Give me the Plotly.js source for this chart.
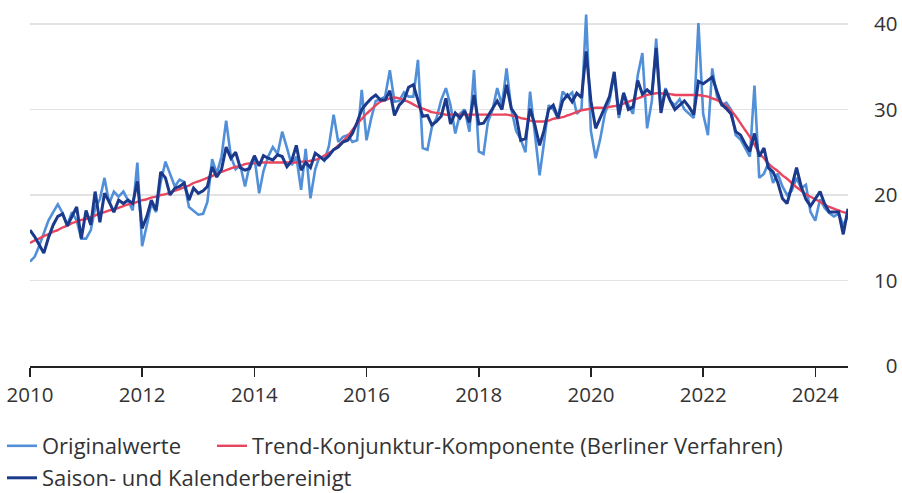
<!DOCTYPE html>
<html>
<head>
<meta charset="utf-8">
<script src="https://cdn.plot.ly/plotly-3.0.1.min.js"></script>
<style>
  html, body { margin: 0; padding: 0; background: #ffffff; }
  #chart { width: 902px; height: 493px; }
</style>
</head>
<body>
<div id="chart"></div>
<script>
// Monthly observations, January 2010 to August 2024
var startYear = 2010;
var monthCount = 176;

var originalwerte = [
  12.2, 12.8, 14.0, 15.5, 17.0, 18.0, 18.9, 17.9, 16.5, 18.0, 17.0, 14.9,
  14.9, 15.9, 18.5, 19.5, 22.0, 19.0, 20.4, 19.8, 20.4, 19.4, 18.2, 23.8,
  14.0, 16.5, 19.0, 18.0, 21.5, 23.9, 22.5, 21.0, 21.8, 21.5, 18.6, 18.2,
  17.7, 17.8, 19.2, 24.2, 22.5, 24.5, 28.7, 24.5, 23.0, 23.5, 21.0, 23.5,
  24.5, 20.2, 22.8, 24.5, 25.6, 24.8, 27.4, 25.5, 23.5, 24.5, 20.6, 25.4,
  19.6, 23.0, 24.5, 24.0, 25.7, 29.4, 26.2, 26.8, 27.0, 26.2, 26.4, 32.3,
  26.4, 29.0, 31.0, 31.2, 31.5, 34.6, 30.9, 31.0, 32.0, 31.5, 31.5, 35.8,
  25.5, 25.3, 27.9, 29.0, 31.1, 32.5, 30.5, 27.2, 29.5, 30.0, 27.4, 34.6,
  25.1, 24.8, 28.5, 30.0, 32.5, 30.5, 34.8, 30.0, 27.5, 26.5, 25.0, 32.1,
  27.5, 22.3, 26.0, 30.5, 30.0, 29.0, 32.1, 31.5, 32.0, 29.5, 30.1, 41.1,
  27.5, 24.3, 26.5, 29.5, 31.0, 34.2, 29.0, 32.0, 30.5, 29.5, 34.0, 36.6,
  27.8, 31.0, 38.3, 30.0, 32.5, 31.0, 30.5, 31.2, 30.0, 29.5, 29.0, 40.1,
  29.5, 27.0, 34.8, 31.5, 30.5, 30.8, 30.0, 27.0, 26.5, 25.5, 24.5, 32.8,
  22.0, 22.5, 23.7, 21.4, 22.5, 21.0, 20.0, 20.5, 22.0, 20.8, 21.2, 18.0,
  17.0, 19.5, 18.5, 17.9, 17.5, 17.8, 16.5, 17.5
];

var trendKonjunktur = [
  14.4, 14.7, 14.9, 15.2, 15.4, 15.7, 15.9, 16.2, 16.4, 16.7, 16.9, 17.1,
  17.2, 17.4, 17.6, 17.8, 18.0, 18.2, 18.3, 18.5, 18.7, 18.9, 19.0, 19.2,
  19.4, 19.5, 19.7, 19.8, 20.0, 20.1, 20.3, 20.5, 20.7, 20.9, 21.1, 21.4,
  21.6, 21.8, 22.0, 22.2, 22.5, 22.7, 22.9, 23.1, 23.3, 23.4, 23.6, 23.7,
  23.7, 23.8, 23.8, 23.8, 23.8, 23.8, 23.8, 23.8, 23.8, 23.8, 23.9, 23.9,
  24.0, 24.1, 24.3, 24.6, 24.9, 25.3, 25.8, 26.3, 26.9, 27.6, 28.3, 28.9,
  29.5, 30.0, 30.5, 30.9, 31.1, 31.3, 31.4, 31.3, 31.1, 30.9, 30.6, 30.3,
  30.1, 29.9, 29.7, 29.6, 29.5, 29.4, 29.4, 29.4, 29.4, 29.4, 29.4, 29.4,
  29.4, 29.4, 29.4, 29.4, 29.4, 29.4, 29.4, 29.3, 29.2, 29.0, 28.9, 28.7,
  28.6, 28.6, 28.6, 28.7, 28.9, 29.0, 29.1, 29.3, 29.5, 29.7, 29.9, 30.0,
  30.1, 30.2, 30.2, 30.2, 30.3, 30.4, 30.5, 30.7, 30.9, 31.1, 31.3, 31.5,
  31.7, 31.8, 31.9, 31.9, 31.8, 31.8, 31.7, 31.7, 31.7, 31.7, 31.7, 31.7,
  31.6, 31.5, 31.3, 31.1, 30.8, 30.4, 29.9, 29.2, 28.4, 27.6, 26.8, 25.9,
  24.9, 24.3, 23.7, 23.2, 22.8, 22.3, 21.9, 21.4, 20.9, 20.5, 20.1, 19.8,
  19.5, 19.2, 18.9, 18.6, 18.4, 18.2, 18.0, 17.9
];

var saisonbereinigt = [
  15.9, 15.1, 14.2, 13.2, 15.0, 16.5, 17.5, 17.8, 16.4, 17.5, 18.6, 14.9,
  18.2, 16.5, 20.4, 16.8, 20.2, 19.2, 18.0, 19.4, 19.0, 19.4, 19.0, 21.6,
  16.1, 17.5, 19.4, 18.2, 22.7, 22.0, 20.0, 20.8, 21.0, 21.4, 19.4, 20.8,
  20.2, 20.5, 21.0, 23.3, 22.1, 23.0, 25.6, 24.3, 25.0, 23.2, 22.9, 23.1,
  24.6, 23.4, 24.6, 24.3, 24.1, 24.7, 24.5, 23.3, 24.0, 25.8, 22.9, 23.8,
  23.2, 24.9, 24.5, 24.1, 24.6, 25.3, 25.6, 26.2, 26.4, 27.2, 28.5, 30.0,
  30.7, 31.3, 31.7, 31.1, 31.1, 32.2, 29.3, 30.5, 31.1, 32.6, 32.9, 31.0,
  29.2, 29.3, 28.2, 28.6, 29.2, 31.3, 28.3, 29.6, 29.0, 29.8, 28.5, 31.7,
  28.3, 28.4, 29.2, 30.0, 31.0, 30.0, 32.9, 30.1, 29.3, 26.4, 26.6, 30.1,
  28.2, 25.8, 27.5, 30.0, 30.5, 29.0, 31.0, 31.7, 30.9, 31.9, 31.4, 36.8,
  31.0, 27.8, 29.0, 30.1, 31.5, 34.4, 29.4, 31.9, 30.0, 30.3, 33.4, 31.8,
  32.3, 31.8, 37.2, 29.6, 32.3, 31.0, 30.0, 30.5, 31.0, 30.3, 29.4, 33.3,
  33.0, 33.4, 33.8, 32.1, 30.6, 30.1, 29.5, 27.4, 27.0, 26.0, 25.1, 27.2,
  24.5, 25.5, 23.2, 22.7, 21.5, 19.6, 19.0, 21.0, 23.2, 21.0, 19.5, 18.7,
  19.5, 20.4, 19.0, 18.0, 18.0, 18.0, 15.4, 18.4
];

var seriesNames = [
  "Originalwerte",
  "Trend-Konjunktur-Komponente (Berliner Verfahren)",
  "Saison- und Kalenderbereinigt"
];
var xTickYears = ["2010", "2012", "2014", "2016", "2018", "2020", "2022", "2024"];
var yTickValues = [0, 10, 20, 30, 40];
var yTickLabels = ["\u20070", "10", "20", "30", "40"];

// month dates
var months = [];
for (var i = 0; i < monthCount; i++) {
  var y = startYear + Math.floor(i / 12);
  var m = (i % 12) + 1;
  months.push(y + "-" + (m < 10 ? "0" + m : m) + "-01");
}

var fontFamily = "'Open Sans', 'Noto Sans', sans-serif";
var textColor = "#333333";

var traces = [
  {
    x: months, y: originalwerte, name: seriesNames[0], type: "scatter", mode: "lines",
    line: { color: "#5190d8", width: 2.6 }, legend: "legend", hoverinfo: "skip"
  },
  {
    x: months, y: trendKonjunktur, name: seriesNames[1], type: "scatter", mode: "lines",
    line: { color: "#e8455e", width: 2.4, shape: "spline" }, legend: "legend2", hoverinfo: "skip"
  },
  {
    x: months, y: saisonbereinigt, name: seriesNames[2], type: "scatter", mode: "lines",
    line: { color: "#1c3a8c", width: 3 }, legend: "legend3", hoverinfo: "skip"
  }
];

function legendAt(xpx, ycenter) {
  return {
    orientation: "h",
    xref: "paper", x: (xpx - 30) / 818, xanchor: "left",
    yref: "container", y: 1 - (ycenter - 21) / 493, yanchor: "top",
    font: { family: fontFamily, size: 22, color: textColor },
    itemwidth: 30,
    bgcolor: "rgba(0,0,0,0)"
  };
}

var layout = {
  width: 902, height: 493,
  margin: { l: 30, r: 54, t: 8, b: 127, autoexpand: false },
  paper_bgcolor: "#ffffff", plot_bgcolor: "#ffffff",
  font: { family: fontFamily, size: 20, color: textColor },
  showlegend: true,
  xaxis: {
    type: "date",
    range: [months[0], months[monthCount - 1]],
    tickvals: xTickYears.map(function (t) { return t + "-01-01"; }),
    ticktext: xTickYears,
    ticks: "outside", ticklen: 9, tickwidth: 1.5, tickcolor: "#222222",
    showline: true, linecolor: "#222222", linewidth: 2,
    showgrid: false, zeroline: false, automargin: false,
    tickfont: { family: fontFamily, size: 20.5, color: textColor },
    fixedrange: true
  },
  yaxis: {
    range: [0, 41.87],
    tickvals: yTickValues,
    ticktext: yTickLabels,
    side: "right",
    ticks: "", showline: false, zeroline: false,
    ticklabelstandoff: 25, automargin: false,
    showgrid: true, gridcolor: "#e3e3e3", gridwidth: 1.5,
    tickfont: { family: fontFamily, size: 20.5, color: textColor },
    fixedrange: true
  },
  legend: legendAt(2, 446),
  legend2: legendAt(212, 446),
  legend3: legendAt(2, 478)
};

Plotly.newPlot("chart", traces, layout, { displayModeBar: false, staticPlot: true });
</script>
</body>
</html>
